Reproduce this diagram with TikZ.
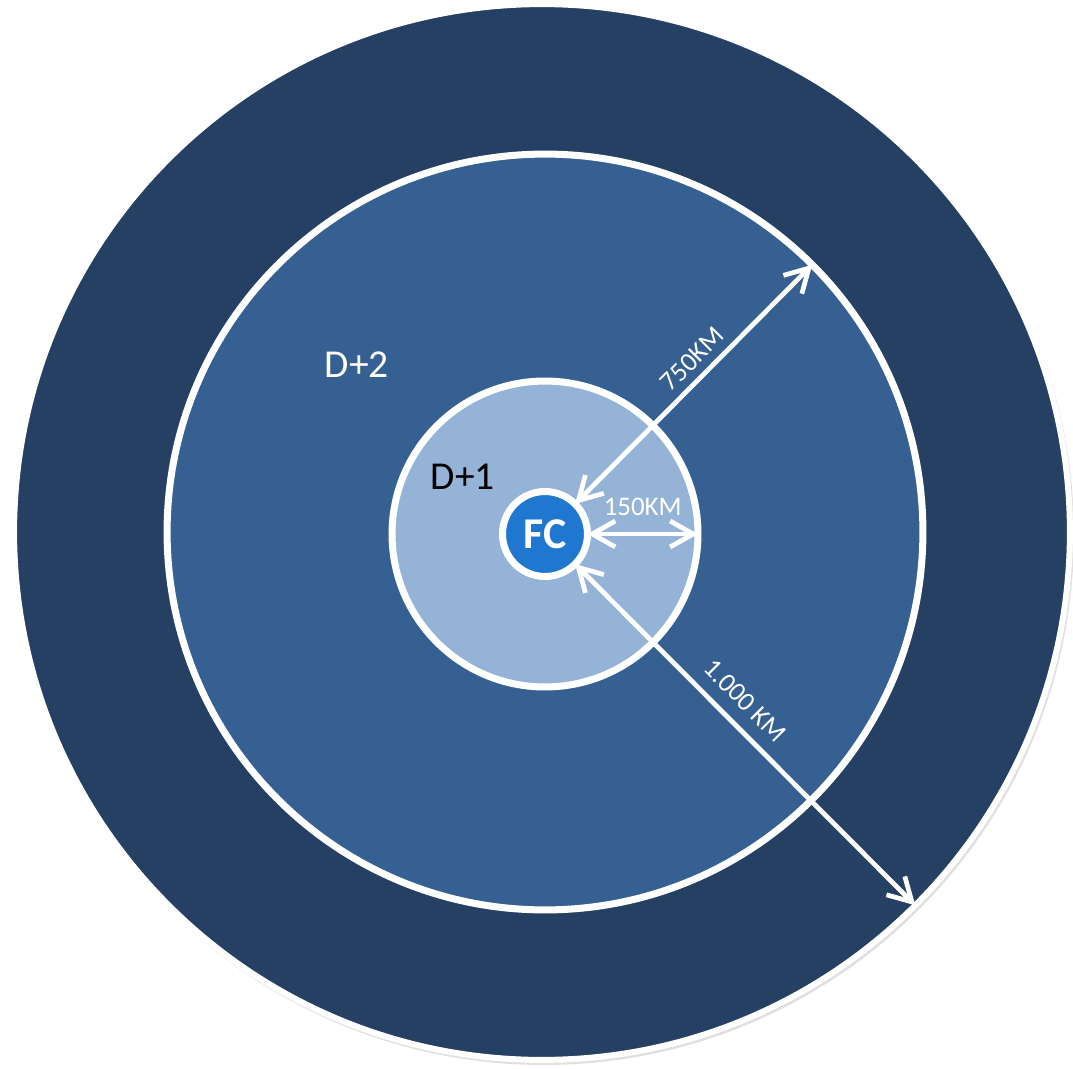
\documentclass[tikz,border=0pt]{standalone}
\usepackage{fontspec}
\setmainfont{Carlito}
\usetikzlibrary{arrows.meta}
\definecolor{zonethree}{HTML}{264063}
\definecolor{zonetwo}{HTML}{366092}
\definecolor{zoneone}{HTML}{95B3D7}
\definecolor{fcblue}{HTML}{1F77D0}

\begin{document}
\begin{tikzpicture}[x=0.02cm, y=-0.02cm,
	zone/.style={circle, inner sep=0pt, outer sep=0pt, draw=white, line width=4pt},
	dist/.style={draw=white, line width=2.7pt, {Straight Barb[length=4.6mm,width=5.2mm]}-{Straight Barb[length=4.6mm,width=5.2mm]}},
	distlabel/.style={text=white, font=\fontsize{15.3}{18}\selectfont},
	zonelabel/.style={font=\fontsize{22.5}{27}\selectfont}
	]
	\useasboundingbox (0,0) rectangle (1073,1069);
	
	% soft shadow of the outer ring
	\fill [black, opacity=0.12] (544,535) circle [radius=530];
	
		\node (outer) [zone, fill=zonethree, minimum size=21.12cm, line width=3.4pt] at (542,532) {};
		\node (middle) [zone, fill=zonetwo, minimum size=15.12cm] at (545,532) {};
		\node (inner) [zone, fill=zoneone, minimum size=6.12cm] at (545,534) {};
		\node (fc) [zone, fill=fcblue, minimum size=1.7cm, text=white, font=\bfseries\fontsize{25}{30}\selectfont] at (545,534) {FC};
		
		\node (dtwo) [zonelabel, text=white] at (357,365) {D+2};
		\node (done) [zonelabel, text=black] at (463,477) {D+1};
	
	\draw [dist] (fc.45) -- (middle.45) node (kmfive) [distlabel, pos=0.55, above=1pt, sloped] {750KM};
	\draw [dist] (fc.east) -- (inner.east) node (kmone) [distlabel, midway, above=6pt] {150KM};
	\draw [dist] (fc.-45) -- (outer.-45) node (kmthousand) [distlabel, pos=0.45, above=4pt, sloped] {1.000 KM};
	
\end{tikzpicture}
\end{document}
